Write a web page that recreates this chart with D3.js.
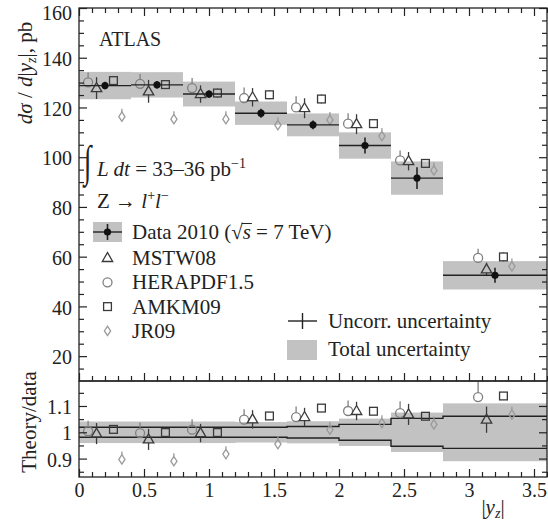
<!DOCTYPE html>
<html><head><meta charset="utf-8">
<script src="https://cdn.jsdelivr.net/npm/d3@7"></script>
<style>
body{margin:0;background:#fff}
text{font-family:"Liberation Serif","Times New Roman",serif;fill:#222}
</style></head><body><svg id="chart" width="548" height="520"></svg>
<script>
// bins in |y_Z| and their centres
var binLo = [0, 0.4, 0.8, 1.2, 1.6, 2.0, 2.4, 2.8];
var binHi = [0.4, 0.8, 1.2, 1.6, 2.0, 2.4, 2.8, 3.6];
var binMid = [0.2, 0.6, 1.0, 1.4, 1.8, 2.2, 2.6, 3.2];

// measured cross section, pb
var dataVal = [128.8, 129.1, 125.4, 117.7, 113.0, 104.7, 91.6, 52.5];
var dataUncorr = [1.5, 1.5, 1.5, 1.8, 1.8, 3.2, 4.4, 3.0];
var dataTotal = [5.5, 5.1, 5.0, 4.7, 4.6, 5.3, 6.7, 5.7];

// theory predictions, pb
var mstw = [127.8, 126.5, 125.4, 124.1, 119.7, 113.3, 98.4, 54.9];
var mstwErr = [4.4, 4.6, 3.5, 3.7, 4.0, 4.0, 3.7, 2.7];
var hera = [130.1, 129.5, 127.8, 123.8, 120.0, 113.5, 98.7, 59.5];
var heraUp = [4.0, 4.0, 4.0, 4.2, 4.5, 4.2, 4.0, 3.7];
var amkm = [130.8, 129.2, 125.8, 125.1, 123.4, 113.5, 97.5, 59.9];
var amkmErr = [1.8, 1.8, 1.8, 1.8, 1.8, 1.8, 1.8, 1.8];
var jr09 = [116.3, 115.3, 115.3, 112.9, 115.0, 108.5, 94.7, 56.1];
var jr09Up = [3.2, 3.2, 3.2, 3.2, 3.2, 3.2, 3.2, 3.2];

// theory / data
var rBand = [0.041, 0.041, 0.041, 0.039, 0.042, 0.052, 0.075, 0.11];
var rLine = [0.019, 0.019, 0.019, 0.019, 0.022, 0.030, 0.053, 0.061];
var rMstw = [0.995, 0.973, 0.997, 1.049, 1.058, 1.081, 1.068, 1.048];
var rMstwErr = [0.04, 0.04, 0.035, 0.035, 0.035, 0.035, 0.04, 0.05];
var rHera = [1.004, 0.997, 1.010, 1.048, 1.058, 1.081, 1.073, 1.134];
var rHeraUp = [0.04, 0.04, 0.04, 0.04, 0.04, 0.04, 0.045, 0.058];
var rAmkm = [1.011, 0.999, 0.999, 1.062, 1.092, 1.080, 1.061, 1.138];
var rAmkmErr = [0.012, 0.012, 0.012, 0.012, 0.012, 0.012, 0.012, 0.012];
var rJr09 = [0.897, 0.890, 0.917, 0.955, 1.010, 1.035, 1.030, 1.067];
var rJr09Up = [0.03, 0.03, 0.03, 0.03, 0.03, 0.03, 0.03, 0.03];

var xTicks = [0, 0.5, 1, 1.5, 2, 2.5, 3, 3.5];
var yTicks = [20, 40, 60, 80, 100, 120, 140, 160];
var rTicks = [0.9, 1, 1.1];

var svg = d3.select('#chart');
var ink = '#222', boxGrey = '#c2c2c2';
var L = 79, R = 547, T = 8, MID = 381, B = 477;
var FS = 21;

var x = d3.scaleLinear().domain([0, 3.6]).range([L, R]);
var y = d3.scaleLinear().domain([10, 160]).range([MID, T]);
var yr = d3.scaleLinear().domain([0.83, 1.195]).range([B, MID]);

var offs = {circle: -0.13, triangle: -0.065, square: 0.065, diamond: 0.13};
var markerCol = {circle: '#808080', triangle: '#3a3a3a', square: '#3a3a3a', diamond: '#9a9a9a'};
var halfH = {circle: [4.5, 4.5], triangle: [5.5, 3.5], square: [3.9, 3.9], diamond: [4.7, 4.7]};

function marker(g, type, cx, cy) {
  var col = markerCol[type], m;
  if (type == 'circle') {
    m = g.append('circle').attr('cx', cx).attr('cy', cy).attr('r', 4.5);
  } else if (type == 'square') {
    m = g.append('rect').attr('x', cx - 3.9).attr('y', cy - 3.9).attr('width', 7.8).attr('height', 7.8);
  } else if (type == 'triangle') {
    m = g.append('path').attr('d', 'M' + cx + ',' + (cy - 5.5) + 'L' + (cx + 5.2) + ',' + (cy + 3.5) + 'L' + (cx - 5.2) + ',' + (cy + 3.5) + 'Z');
  } else {
    m = g.append('path').attr('d', 'M' + cx + ',' + (cy - 4.7) + 'L' + (cx + 3.1) + ',' + cy + 'L' + cx + ',' + (cy + 4.7) + 'L' + (cx - 3.1) + ',' + cy + 'Z');
  }
  m.attr('fill', 'none').attr('stroke', col).attr('stroke-width', 1.3);
}

// theory series with error bars stopping at the marker edge
function theory(g, scale, type, vals, up, dn) {
  vals.forEach(function (v, i) {
    var cx = x(binMid[i] + offs[type]), cy = scale(v);
    var yTop = scale(v + up[i]), yBot = scale(v - dn[i]);
    var h = halfH[type];
    if (yTop < cy - h[0]) {
      g.append('line').attr('x1', cx).attr('x2', cx).attr('y1', yTop).attr('y2', cy - h[0])
        .attr('stroke', markerCol[type]).attr('stroke-width', 1.3);
    }
    if (yBot > cy + h[1]) {
      g.append('line').attr('x1', cx).attr('x2', cx).attr('y1', cy + h[1]).attr('y2', yBot)
        .attr('stroke', markerCol[type]).attr('stroke-width', 1.3);
    }
    marker(g, type, cx, cy);
  });
}
function zeros(n) { return d3.range(n).map(function () { return 0; }); }

svg.append('clipPath').attr('id', 'clipTop').append('rect').attr('x', L).attr('y', T).attr('width', R - L).attr('height', MID - T);
svg.append('clipPath').attr('id', 'clipBot').append('rect').attr('x', L).attr('y', MID).attr('width', R - L).attr('height', B - MID);

// ---- top panel ----
var gTop = svg.append('g').attr('clip-path', 'url(#clipTop)');
gTop.selectAll('rect.tot').data(dataVal).enter().append('rect')
  .attr('x', function (d, i) { return x(binLo[i]); })
  .attr('width', function (d, i) { return x(binHi[i]) - x(binLo[i]); })
  .attr('y', function (d, i) { return y(d + dataTotal[i]); })
  .attr('height', function (d, i) { return y(d - dataTotal[i]) - y(d + dataTotal[i]); })
  .attr('fill', boxGrey);

theory(gTop, y, 'circle', hera, heraUp, hera.map(function () { return 1; }));
theory(gTop, y, 'triangle', mstw, mstwErr, mstwErr);
theory(gTop, y, 'square', amkm, amkmErr, amkmErr);
theory(gTop, y, 'diamond', jr09, jr09Up, jr09.map(function () { return 0.8; }));

dataVal.forEach(function (v, i) {
  gTop.append('line').attr('x1', x(binLo[i])).attr('x2', x(binHi[i])).attr('y1', y(v)).attr('y2', y(v))
    .attr('stroke', ink).attr('stroke-width', 1.4);
  gTop.append('line').attr('x1', x(binMid[i])).attr('x2', x(binMid[i]))
    .attr('y1', y(v + dataUncorr[i])).attr('y2', y(v - dataUncorr[i]))
    .attr('stroke', ink).attr('stroke-width', 1.6);
  gTop.append('circle').attr('cx', x(binMid[i])).attr('cy', y(v)).attr('r', 3.6).attr('fill', '#111');
});

// ---- ratio panel ----
var gBot = svg.append('g').attr('clip-path', 'url(#clipBot)');
gBot.selectAll('rect.band').data(rBand).enter().append('rect')
  .attr('x', function (d, i) { return x(binLo[i]); })
  .attr('width', function (d, i) { return x(binHi[i]) - x(binLo[i]) + 0.5; })
  .attr('y', function (d) { return yr(1 + d); })
  .attr('height', function (d) { return yr(1 - d) - yr(1 + d); })
  .attr('fill', boxGrey);

function stepPts(sign) {
  var pts = [];
  rLine.forEach(function (d, i) {
    pts.push([x(binLo[i]), yr(1 + sign * d)]);
    pts.push([x(binHi[i]), yr(1 + sign * d)]);
  });
  return pts;
}
[1, -1].forEach(function (s) {
  gBot.append('path').attr('d', d3.line()(stepPts(s)))
    .attr('fill', 'none').attr('stroke', ink).attr('stroke-width', 1.4);
});

theory(gBot, yr, 'circle', rHera, rHeraUp, zeros(8));
theory(gBot, yr, 'triangle', rMstw, rMstwErr, rMstwErr);
theory(gBot, yr, 'square', rAmkm, rAmkmErr, rAmkmErr);
theory(gBot, yr, 'diamond', rJr09, rJr09Up, zeros(8));

// ---- axes: ticks pointing inwards on all sides ----
function axis(gen, tr, ticks, size, fmt) {
  var g = svg.append('g').attr('transform', tr)
    .call(gen.tickValues(ticks).tickSize(-size).tickSizeOuter(0).tickPadding(7).tickFormat(fmt));
  g.select('.domain').remove();
  g.selectAll('line').attr('stroke', ink).attr('stroke-width', 1.2);
  g.selectAll('text').attr('font-size', 20).attr('fill', ink)
    .style('font-family', '"Liberation Serif", "Times New Roman", serif');
  return g;
}
var none = function () { return ''; };
var xMinor = d3.range(0, 3.61, 0.1).filter(function (v) { return Math.abs(v * 2 - Math.round(v * 2)) > 1e-6; });
var yMinor = d3.range(15, 160, 5).filter(function (v) { return v % 20 != 0; });
var rMinor = [0.85, 0.95, 1.05, 1.15];
var fmt = d3.format('~g');

// top panel
var yLab = axis(d3.axisLeft(y), 'translate(' + L + ',0)', yTicks, 8, fmt);
yLab.selectAll('text').attr('dy', function (d) { return d == 160 ? '0.55em' : '0.38em'; });
axis(d3.axisLeft(y), 'translate(' + L + ',0)', yMinor, 5, none);
axis(d3.axisRight(y), 'translate(' + R + ',0)', yTicks, 8, none);
axis(d3.axisRight(y), 'translate(' + R + ',0)', yMinor, 5, none);
axis(d3.axisTop(x), 'translate(0,' + T + ')', xTicks, 8, none);
axis(d3.axisTop(x), 'translate(0,' + T + ')', xMinor, 5, none);
axis(d3.axisBottom(x), 'translate(0,' + MID + ')', xTicks, 8, none);
axis(d3.axisBottom(x), 'translate(0,' + MID + ')', xMinor, 5, none);
// ratio panel
axis(d3.axisLeft(yr), 'translate(' + L + ',0)', rTicks, 8, fmt).selectAll('text').attr('dy', '0.38em');
axis(d3.axisLeft(yr), 'translate(' + L + ',0)', rMinor, 5, none);
axis(d3.axisRight(yr), 'translate(' + R + ',0)', rTicks, 8, none);
axis(d3.axisRight(yr), 'translate(' + R + ',0)', rMinor, 5, none);
axis(d3.axisBottom(x), 'translate(0,' + B + ')', xTicks, 8, fmt).selectAll('text').attr('y', 6);
axis(d3.axisBottom(x), 'translate(0,' + B + ')', xMinor, 5, none);

svg.append('rect').attr('x', L).attr('y', T).attr('width', R - L).attr('height', MID - T)
  .attr('fill', 'none').attr('stroke', ink).attr('stroke-width', 1.3);
svg.append('rect').attr('x', L).attr('y', MID).attr('width', R - L).attr('height', B - MID)
  .attr('fill', 'none').attr('stroke', ink).attr('stroke-width', 1.3);

// ---- titles ----
var yt = svg.append('text').attr('transform', 'translate(32,' + 73 + ') rotate(-90)')
  .attr('text-anchor', 'middle').attr('font-size', FS);
yt.append('tspan').attr('font-style', 'italic').text('dσ');
yt.append('tspan').text(' / ');
yt.append('tspan').attr('font-style', 'italic').text('d');
yt.append('tspan').text('|');
yt.append('tspan').attr('font-style', 'italic').text('y');
yt.append('tspan').attr('font-style', 'italic').attr('font-size', 14).attr('dy', 4).text('z');
yt.append('tspan').attr('dy', -4).text('|, pb');

svg.append('text').attr('transform', 'translate(36,' + 422 + ') rotate(-90)')
  .attr('text-anchor', 'middle').attr('font-size', FS).text('Theory/data');

var xt = svg.append('text').attr('x', 493).attr('y', 514).attr('text-anchor', 'middle').attr('font-size', FS);
xt.append('tspan').text('|');
xt.append('tspan').attr('font-style', 'italic').text('y');
xt.append('tspan').attr('font-style', 'italic').attr('font-size', 14).attr('dy', 4).text('z');
xt.append('tspan').attr('dy', -4).text('|');

// ---- annotations ----
svg.append('text').attr('x', 99).attr('y', 46).attr('font-size', 20).text('ATLAS');

svg.append('text').attr('transform', 'translate(84,176) scale(0.8,1.3)').attr('font-size', 34).text('∫');
var lum = svg.append('text').attr('x', 97).attr('y', 176).attr('font-size', FS);
lum.append('tspan').attr('font-style', 'italic').text('L  dt');
lum.append('tspan').text(' = 33–36 pb');
lum.append('tspan').attr('font-size', 14).attr('dy', -8).text('−1');

var zl = svg.append('text').attr('x', 97).attr('y', 208).attr('font-size', FS);
zl.append('tspan').text('Z → ');
zl.append('tspan').attr('font-style', 'italic').text('l');
zl.append('tspan').attr('font-size', 14).attr('dy', -8).text('+');
zl.append('tspan').attr('font-style', 'italic').attr('dy', 8).text('l');
zl.append('tspan').attr('font-size', 14).attr('dy', -8).text('−');

// ---- legend ----
var lg = svg.append('g');
lg.append('rect').attr('x', 93).attr('y', 222).attr('width', 29).attr('height', 20).attr('fill', boxGrey);
lg.append('line').attr('x1', 93).attr('x2', 122).attr('y1', 232).attr('y2', 232).attr('stroke', ink).attr('stroke-width', 1.4);
lg.append('line').attr('x1', 107.5).attr('x2', 107.5).attr('y1', 224).attr('y2', 240).attr('stroke', ink).attr('stroke-width', 1.6);
lg.append('circle').attr('cx', 107.5).attr('cy', 232).attr('r', 3.6).attr('fill', '#111');
var dl = lg.append('text').attr('x', 132).attr('y', 239).attr('font-size', FS);
dl.append('tspan').text('Data 2010 (√');
var sSpan = dl.append('tspan').attr('font-style', 'italic').text('s');
dl.append('tspan').text(' = 7 TeV)');
// overline above the s of the square root
var pre = svg.append('text').attr('font-size', FS).attr('x', -999).text('Data 2010 (√');
var w0 = pre.node().getComputedTextLength();
pre.remove();
var sw = sSpan.node().getComputedTextLength();
lg.append('line').attr('x1', 132 + w0 - 1).attr('x2', 132 + w0 + sw + 1).attr('y1', 223.5).attr('y2', 223.5)
  .attr('stroke', ink).attr('stroke-width', 1);

var legItems = [['triangle', 'MSTW08'], ['circle', 'HERAPDF1.5'], ['square', 'AMKM09'], ['diamond', 'JR09']];
legItems.forEach(function (it, i) {
  var cy = 258 + i * 24.3;
  marker(lg, it[0], 107.5, cy);
  lg.append('text').attr('x', 132).attr('y', cy + 7).attr('font-size', FS).text(it[1]);
});

lg.append('line').attr('x1', 288).attr('x2', 317).attr('y1', 321).attr('y2', 321).attr('stroke', ink).attr('stroke-width', 1.4);
lg.append('line').attr('x1', 302.5).attr('x2', 302.5).attr('y1', 313).attr('y2', 329).attr('stroke', ink).attr('stroke-width', 1.4);
lg.append('text').attr('x', 328).attr('y', 328).attr('font-size', FS).text('Uncorr. uncertainty');
lg.append('rect').attr('x', 287).attr('y', 340).attr('width', 30).attr('height', 20).attr('fill', boxGrey);
lg.append('text').attr('x', 328).attr('y', 356).attr('font-size', FS).text('Total uncertainty');
</script></body></html>
